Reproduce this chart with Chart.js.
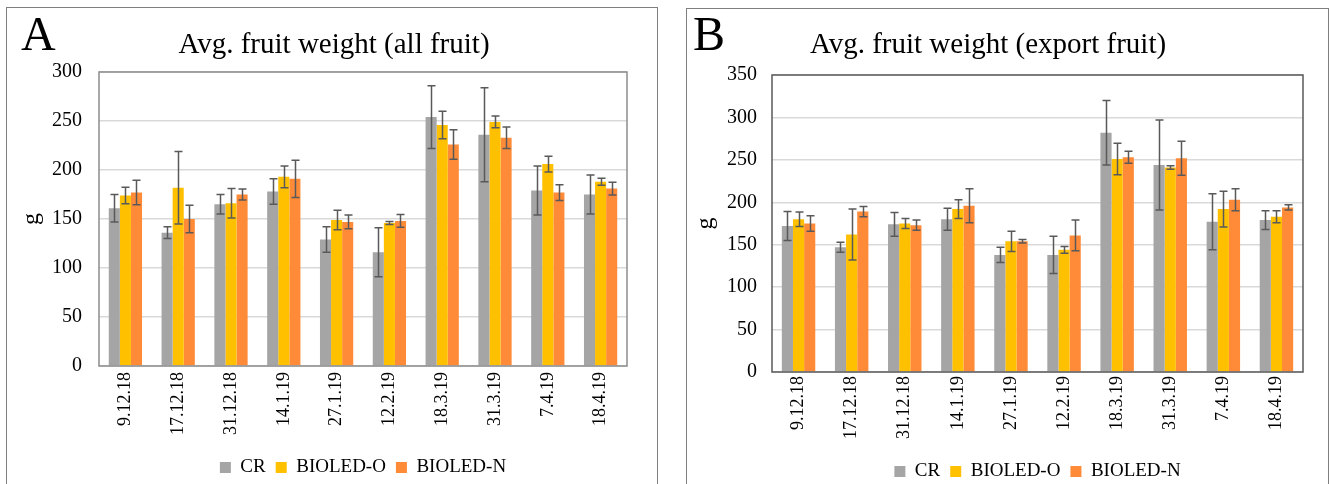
<!DOCTYPE html>
<html><head><meta charset="utf-8">
<script src="https://cdn.jsdelivr.net/npm/chart.js@4.4.1/dist/chart.umd.min.js"></script>
<style>
html,body{margin:0;padding:0;background:#fff;}
body{width:1333px;height:484px;overflow:hidden;position:relative;}
.panel{position:absolute;border:1.5px solid #7f7f7f;box-sizing:border-box;}
.lab{position:absolute;font-family:"Liberation Serif";font-size:48px;line-height:1;color:#000;}
.ttl{position:absolute;font-family:"Liberation Serif";font-size:29px;line-height:30px;color:#000;width:600px;text-align:center;white-space:nowrap;}
.cv{position:absolute;}
</style></head>
<body>
<div class="panel" style="left:6px;top:7px;width:652px;height:520px;"></div>
<div class="panel" style="left:686px;top:8px;width:643px;height:520px;"></div>
<div class="cv" style="left:8px;top:9px;width:648px;height:478px;"><canvas id="cA"></canvas></div>
<div class="cv" style="left:688px;top:10px;width:638px;height:481px;"><canvas id="cB"></canvas></div>
<div class="lab" style="left:21px;top:10px;">A</div>
<div class="lab" style="left:693px;top:10px;">B</div>
<div class="ttl" id="tA" style="left:34px;top:28px;"></div>
<div class="ttl" id="tB" style="left:688px;top:28px;"></div>
<script>
const categories = ["9.12.18","17.12.18","31.12.18","14.1.19","27.1.19","12.2.19","18.3.19","31.3.19","7.4.19","18.4.19"];
const seriesNames = ["CR","BIOLED-O","BIOLED-N"];
const seriesColors = ["#A5A5A5","#FFC000","#FF8B38"];
const titleA = "Avg. fruit weight (all fruit)";
const titleB = "Avg. fruit weight (export fruit)";

// Panel A: all fruit
const allCR    = [161,136,165,178,129,116,254,236,179,175];
const allCRErr = [14,6,10,13,13,25,32,48,25,20];
const allO     = [174,182,166,193,149,146,246,249,206,188];
const allOErr  = [8.5,37,15,11,10,1.5,14,6,8,3.5];
const allN     = [177,150,175,191,147,148,226,233,177,181];
const allNErr  = [12.5,14,5.5,19,7,6.5,15,11,8,6.5];

// Panel B: export fruit
const expCR    = [172,147,174,180,138,138,282,244,177,179];
const expCRErr = [17,6,14,13,9,22,38,53,33,11];
const expO     = [180,162,175,192,154,144,251,241,192,183];
const expOErr  = [8.5,30,6,11,12,4,18.5,2,21,7];
const expN     = [175,189,173,196,154,161,253,252,203,194];
const expNErr  = [9,6,6,20,2,18,7,20,13,3];

const yTicksA = [0,50,100,150,200,250,300];
const yTicksB = [0,50,100,150,200,250,300,350];

document.getElementById('tA').textContent = titleA;
document.getElementById('tB').textContent = titleB;

const errorBars = {
  id:'errorBars',
  afterDatasetsDraw(chart){
    const ctx = chart.ctx, y = chart.scales.y;
    ctx.save(); ctx.strokeStyle = '#595959'; ctx.lineWidth = 1.5;
    chart.data.datasets.forEach((ds,i)=>{
      const meta = chart.getDatasetMeta(i);
      meta.data.forEach((bar,j)=>{
        const v = ds.data[j], e = ds.errors[j];
        const yt = y.getPixelForValue(v+e), yb = y.getPixelForValue(v-e);
        const x = Math.round(bar.x)+0.5;
        ctx.beginPath();
        ctx.moveTo(x,yt); ctx.lineTo(x,yb);
        ctx.moveTo(x-4,yt); ctx.lineTo(x+4,yt);
        ctx.moveTo(x-4,yb); ctx.lineTo(x+4,yb);
        ctx.stroke();
      });
    });
    ctx.restore();
  }
};
const frame = {
  id:'frame',
  afterDatasetsDraw(chart, args, opts){
    const a = chart.chartArea, ctx = chart.ctx;
    ctx.save(); ctx.strokeStyle = opts.color; ctx.lineWidth = 1.5;
    ctx.strokeRect(a.left, a.top, a.right-a.left, a.bottom-a.top);
    ctx.restore();
  }
};

function makeChart(id, series, errs, ticks, yMax, cfg){
  return new Chart(document.getElementById(id), {
    type:'bar',
    data:{
      labels: categories,
      datasets: series.map((d,i)=>({label:seriesNames[i], data:d, errors:errs[i],
        backgroundColor:seriesColors[i], borderWidth:0,
        categoryPercentage:0.63, barPercentage:1.0}))
    },
    options:{
      responsive:true, maintainAspectRatio:false, animation:false,
      layout:{padding:{left:0,right:cfg.padRight,top:cfg.padTop,bottom:0}},
      plugins:{
        title:{display:false},
        legend:{position:'bottom', fullSize:false,
          labels:{color:'#000', boxWidth:11, boxHeight:11, padding:10,
            font:{family:'Liberation Serif', size:19}}},
        tooltip:{enabled:false},
        frame:{color:cfg.frameColor}
      },
      scales:{
        x:{
          grid:{display:false, drawTicks:false},
          border:{display:false},
          ticks:{color:'#000', minRotation:90, maxRotation:90, padding:cfg.xPad, autoSkip:false,
            font:{family:'Liberation Serif', size:18}},
          afterFit(s){ s.height = cfg.xHeight; }
        },
        y:{
          min:0, max:yMax,
          afterBuildTicks(s){ s.ticks = ticks.map(v=>({value:v})); },
          grid:{color:'#d9d9d9', lineWidth:1.5, drawTicks:false},
          border:{display:false},
          ticks:{color:'#000', padding:cfg.tickPad, font:{family:'Liberation Serif', size:20}},
          title:{display:true, text:'g', color:'#000', padding:{top:cfg.gPad,bottom:0},
            font:{family:'Liberation Serif', size:24}},
          afterFit(s){ s.width = cfg.yWidth; }
        }
      }
    },
    plugins:[errorBars, frame]
  });
}

makeChart('cA',[allCR,allO,allN],[allCRErr,allOErr,allNErr],yTicksA,300,
  {padRight:29,padTop:63,xHeight:82,xPad:6,yWidth:91,tickPad:17,gPad:9,frameColor:'#8c8c8c'});
makeChart('cB',[expCR,expO,expN],[expCRErr,expOErr,expNErr],yTicksB,350,
  {padRight:23,padTop:65,xHeight:80,xPad:4,yWidth:84,tickPad:15,gPad:3,frameColor:'#5a5a5a'});
</script>
</body></html>
